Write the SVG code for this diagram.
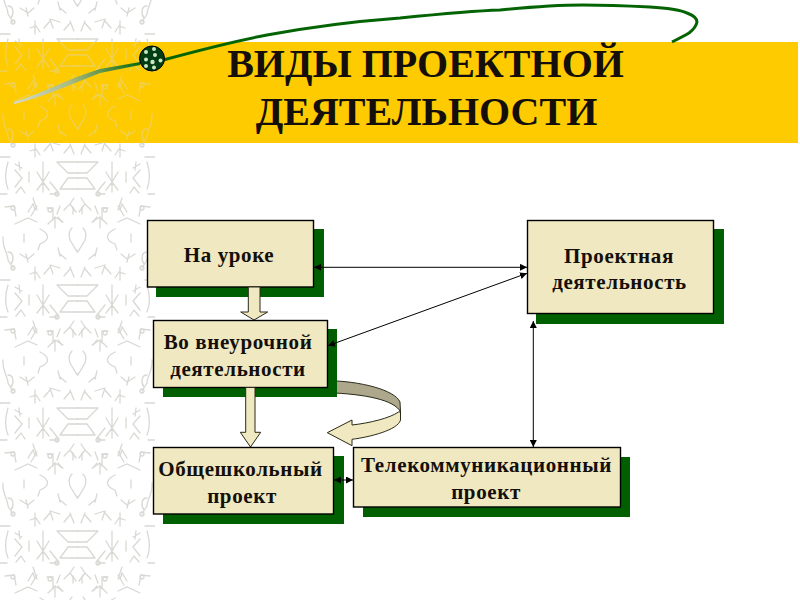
<svg xmlns="http://www.w3.org/2000/svg" width="800" height="600" viewBox="0 0 800 600">
<style>
.sh{fill:#005f00}
.bx{fill:#efe8c0;stroke:#000;stroke-width:1.4}
.t{font-family:"Liberation Serif","Times New Roman",serif;font-weight:bold;text-anchor:middle;fill:#140f0a}
.n{font-size:21px;letter-spacing:.62px}
.h{font-size:40px}
.ln{stroke:#000;stroke-width:1;fill:none;marker-start:url(#a);marker-end:url(#a)}
.ba{fill:#efe8c0;stroke:#2a2a1a;stroke-width:1}
.sp{fill:none;stroke:#d8d8d4;stroke-width:1.3;stroke-linecap:round}
</style>
<defs>
<marker id="a" viewBox="0 0 10 10" refX="10" refY="5" markerUnits="userSpaceOnUse" markerWidth="7" markerHeight="7" orient="auto-start-reverse"><path d="M0,0 L10,5 L0,10Z" fill="#000"/></marker>
<linearGradient id="sw" gradientUnits="userSpaceOnUse" x1="14" y1="103" x2="140" y2="63"><stop offset="0" stop-color="#d5dccb"/><stop offset=".45" stop-color="#a9bb80"/><stop offset="1" stop-color="#0c6a0c"/></linearGradient>
<g id="half">
<path d="M57,0 H78 M68,11 H78 M68,16 H78 M60,27 H78 M57,0 L68,11 M68,16 L60,27 M0,-5 H10 M8,0 C5,10 5,20 8,27 M15,8 L22,16 L15,25 M15,2 L22,6 M19,0 L20,8 M29,10 V20 M43,0 V30 M37,10 L43,20 L49,10 M37,28 L43,20 L49,28 M16,31 L21,25 L25,31 M0,32 H7"/>
<path d="M5,45 L14,44 L16,54 M28,50 L33,42 L35,48 M47,46 H53 V58 M50,32 H58 M58,30 L50,20 M70,42 L64,48 M70,42 L74,36 M70,42 L76,50 M82,45 V52 M15,62 L28,56 L37,60 M58,55 L62,60 M60,44 L57,52 M92,60 L100,55 L107,62 M100,55 V66 M118,44 L124,54 M122,36 L118,48"/>
<path d="M3,75 C2,85 8,92 8,98 L13,106 M8,90 C14,90 14,98 11,102 M40,67 C50,72 50,78 40,82 L38,88 M24,72 V80 M26,92 L28,100 M20,92 L28,97 L34,92 M35,105 V118 M30,112 L36,110 L40,116 M50,105 L44,112 M50,103 L60,106 M50,103 L53,112 M70,107 L64,114 M70,105 L74,115 M60,92 L66,97 M58,86 L60,94 M70,78 L76,88 L78,90 M70,78 C68,72 70,68 72,66"/>
<circle cx="13" cy="46" r="2"/><circle cx="13" cy="106" r="2"/><circle cx="57" cy="32" r="2"/><circle cx="50" cy="48" r="2"/>
</g>
<pattern id="bg" width="155" height="123" patternUnits="userSpaceOnUse" patternTransform="translate(0,39)">
<g class="sp"><use href="#half" y="0"/><use href="#half" y="123"/><use href="#half" transform="translate(155,0) scale(-1,1)"/><use href="#half" transform="translate(155,123) scale(-1,1)"/></g>
</pattern>
</defs>
<rect width="800" height="600" fill="#fff"/>
<rect id="bg-strip" x="0" y="0" width="155" height="600" fill="url(#bg)"/>
<g id="title-bar">
<rect x="0" y="42" width="798" height="101" fill="#fecb00"/>
<rect x="0" y="42" width="155" height="101" fill="url(#bg)" opacity=".4"/>
</g>
<g id="swoosh">
<path d="M14,102 C40,94 70,78 100,69 L140,62 L140,65 L100,73 C70,85 40,98 14,104Z" fill="url(#sw)"/>
<path d="M163,60 C200,50 235,41 267,35 C310,27 360,21 400,18 C440,14 470,11 500,10 C530,7 560,5 583,5 C610,5 630,6 650,7 C668,8 680,10 687,13 C695,16 697,19 697,22 C696,27 693,30 689,33 C684,36 678,39 672,42" fill="none" stroke="#046404" stroke-width="3"/>
<circle cx="152" cy="58.500" r="12.500" fill="#003c14" stroke="#000" stroke-width="1"/>
<g fill="#cfe6c0"><circle cx="146" cy="52" r="2"/><circle cx="154" cy="49" r="2"/><circle cx="146" cy="59.500" r="2"/><circle cx="152.500" cy="62" r="2.200"/><circle cx="160.500" cy="60.500" r="2"/><circle cx="155" cy="55" r="2"/><circle cx="146" cy="66" r="2"/><circle cx="154" cy="67.500" r="2"/></g>
</g>
<g id="title">
<text class="t h" x="425.500" y="77">ВИДЫ ПРОЕКТНОЙ</text>
<text class="t h" x="426.500" y="125">ДЕЯТЕЛЬНОСТИ</text>
</g>
<g id="curved-arrow">
<path d="M327.700,380.700 C360,381 395,390 400,402 L400.500,412 C395,400 365,394 327.700,392.700Z" fill="#ada78c" stroke="#2a2a1a" stroke-width="1"/>
<path d="M398.500,412 L400.500,412 L400.500,420 C398,430 370,437 352,439.300 L352,445.700 L327.300,432.700 L352,420 L352,425 C370,423 390,418 398.500,412Z" class="ba"/>
</g>
<g id="node-na-uroke">
<rect class="sh" x="156" y="229" width="168" height="68"/>
<rect class="bx" x="147.500" y="220.500" width="166" height="66.500"/>
<text class="t n" x="229" y="262">На уроке</text>
</g>
<g id="node-proektnaya">
<rect class="sh" x="536" y="229" width="188" height="95"/>
<rect class="bx" x="527.500" y="220.500" width="186" height="93"/>
<text class="t n" x="619" y="262.500">Проектная</text>
<text class="t n" x="619.500" y="289">деятельность</text>
</g>
<g id="arrow-1">
<path class="ba" d="M248.300,287 H260 V312 H267.700 L254,320 L240.700,312 H248.300Z"/>
</g>
<g id="node-vneurochnoi">
<rect class="sh" x="163" y="329" width="174" height="68"/>
<rect class="bx" x="153.500" y="320.500" width="174" height="67"/>
<text class="t n" x="238" y="349">Во внеурочной</text>
<text class="t n" x="238" y="376">деятельности</text>
</g>
<g id="arrow-2">
<path class="ba" d="M245.700,387.500 H255 V432.300 H260.700 L250.500,447 L240.300,432.300 H245.700Z"/>
</g>
<g id="node-obshcheshkolny">
<rect class="sh" x="163" y="456" width="181" height="68"/>
<rect class="bx" x="153.500" y="447.500" width="180" height="66.500"/>
<text class="t n" x="240.500" y="476">Общешкольный</text>
<text class="t n" x="242" y="503">проект</text>
</g>
<g id="node-telekom">
<rect class="sh" x="363" y="457" width="267" height="60"/>
<rect class="bx" x="353.500" y="447.500" width="267" height="59.500"/>
<text class="t n" x="486.500" y="472">Телекоммуникационный</text>
<text class="t n" x="486" y="499">проект</text>
</g>
<g id="connectors">
<path class="ln" d="M314,267.300 H527"/>
<path class="ln" d="M328,345.700 L527,273.300"/>
<path class="ln" d="M533.300,321 V447"/>
<path class="ln" d="M334,480 H353"/>
</g>
</svg>
